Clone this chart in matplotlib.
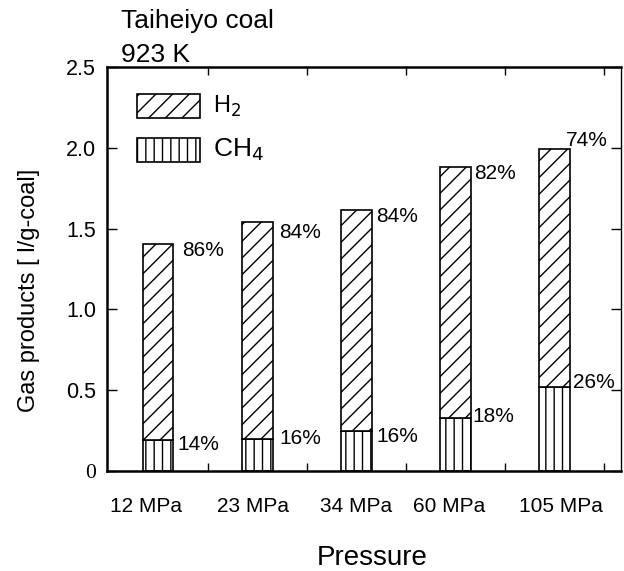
import numpy as np
import matplotlib.pyplot as plt
from matplotlib.patches import Rectangle
from matplotlib.transforms import ScaledTranslation

plt.rcParams['font.family'] = ['Liberation Sans', 'DejaVu Sans']
plt.rcParams['hatch.linewidth'] = 1.0

# data
pressures = ['12 MPa', '23 MPa', '34 MPa', '60 MPa', '105 MPa']
ch4 = [0.19, 0.20, 0.25, 0.33, 0.52]
h2 = [1.215, 1.34, 1.365, 1.55, 1.47]
pct_h2 = [86, 84, 84, 82, 74]
pct_ch4 = [14, 16, 16, 18, 26]

# label offsets in pixels from the top-right corner of each segment
off_h2 = [(9, -7), (7, -10), (4, -6), (3, -6), (-4, 9)]
off_ch4 = [(4, -4), (7, 0), (5, -6), (1, 1), (3, 4)]
# small horizontal shifts of the tick labels (pixels), as in the original
lab_dx = [-12, -4, 0, -6, 6]

fig = plt.figure(figsize=(6.24, 5.71), dpi=100)
ax = fig.add_axes([107/624, 1-471/571, 514/624, 404/571])

x = np.arange(len(pressures))
w = 0.31
ax.bar(x, ch4, w, color='white', edgecolor='black', lw=1.2, hatch='||')
ax.bar(x, h2, w, bottom=ch4, color='white', edgecolor='black', lw=1.2, hatch='//')

tops = np.array(ch4) + np.array(h2)
for i in range(len(x)):
    ax.annotate(f'{pct_h2[i]}%', xy=(x[i]+w/2, tops[i]), xytext=off_h2[i],
                textcoords='offset pixels', ha='left', va='center', fontsize=15)
    ax.annotate(f'{pct_ch4[i]}%', xy=(x[i]+w/2, ch4[i]), xytext=off_ch4[i],
                textcoords='offset pixels', ha='left', va='center', fontsize=15)

ax.set_xlim(-0.514, 4.667)
ax.set_ylim(0, 2.5)

ax.set_xticks(x, pressures, fontsize=15)
ax.set_xticks(np.arange(0.5, 5, 1.0), minor=True)
ax.tick_params(axis='x', which='major', length=0, pad=19)
ax.tick_params(axis='x', which='minor', direction='in', length=6, width=1.0, top=True)
for lab, dx in zip(ax.get_xticklabels(), lab_dx):
    lab.set_transform(lab.get_transform() + ScaledTranslation(dx/100, 0, fig.dpi_scale_trans))

yt = [0, 0.5, 1.0, 1.5, 2.0, 2.5]
ax.set_yticks(yt, ['0', '0.5', '1.0', '1.5', '2.0', '2.5'], fontsize=15.5)
ax.get_yticklabels()[0].set_fontfamily('Liberation Serif')
ax.tick_params(axis='y', direction='in', length=7, width=1.0, right=True, pad=8)

for s in ['left', 'bottom', 'top']:
    ax.spines[s].set_linewidth(1.8)
ax.spines['right'].set_linewidth(1.0)

# legend boxes
ax.add_patch(Rectangle((0.0584, 0.8738), 0.1226, 0.0594, transform=ax.transAxes,
                       facecolor='white', edgecolor='black', lw=1.2, hatch='//'))
ax.add_patch(Rectangle((0.0584, 0.7649), 0.1226, 0.0594, transform=ax.transAxes,
                       facecolor='white', edgecolor='black', lw=1.2, hatch='||'))
ax.text(0.206, 0.9035, 'H$_2$', transform=ax.transAxes, ha='left', va='center', fontsize=17)
ax.text(0.206, 0.7946, 'CH$_4$', transform=ax.transAxes, ha='left', va='center', fontsize=19)

fig.text(121/624, 1-28/571, 'Taiheiyo coal', fontsize=19, ha='left', va='baseline')
fig.text(121/624, 1-62/571, '923 K', fontsize=19, ha='left', va='baseline')

fig.text(372/624, 1-558/571, 'Pressure', fontsize=20, ha='center', va='center')
fig.text(29/624, 1-290/571, 'Gas products [ l/g-coal]', fontsize=17, rotation=90,
         ha='center', va='center')

fig.savefig('out.png', dpi=100)
